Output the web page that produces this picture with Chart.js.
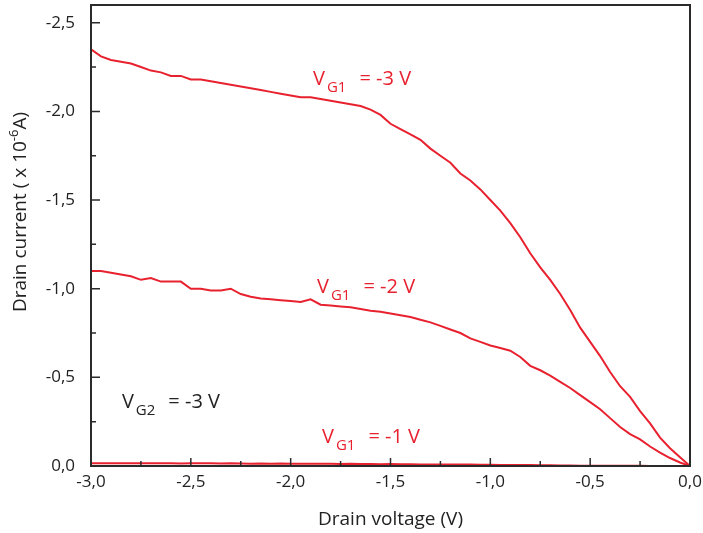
<!DOCTYPE html>
<html>
<head>
<meta charset="utf-8">
<script src="https://cdn.jsdelivr.net/npm/chart.js@4.4.1/dist/chart.umd.min.js"></script>
<style>
  html, body { margin: 0; padding: 0; background: #fff; }
  #wrap { width: 703px; height: 533px; }
</style>
</head>
<body>
<div id="wrap"><canvas id="ivChart"></canvas></div>
<script>
// drain voltage (V), 0.05 V step
const drainVoltage = [
  -3.00, -2.95, -2.90, -2.85, -2.80, -2.75, -2.70, -2.65, -2.60, -2.55,
  -2.50, -2.45, -2.40, -2.35, -2.30, -2.25, -2.20, -2.15, -2.10, -2.05,
  -2.00, -1.95, -1.90, -1.85, -1.80, -1.75, -1.70, -1.65, -1.60, -1.55,
  -1.50, -1.45, -1.40, -1.35, -1.30, -1.25, -1.20, -1.15, -1.10, -1.05,
  -1.00, -0.95, -0.90, -0.85, -0.80, -0.75, -0.70, -0.65, -0.60, -0.55,
  -0.50, -0.45, -0.40, -0.35, -0.30, -0.25, -0.20, -0.15, -0.10, -0.05, 0.00
];

// drain current (x 1e-6 A)
const currentVg1m3 = [
  -2.35, -2.31, -2.29, -2.28, -2.27, -2.25, -2.23, -2.22, -2.20, -2.20,
  -2.18, -2.18, -2.17, -2.16, -2.15, -2.14, -2.13, -2.12, -2.11, -2.10,
  -2.09, -2.08, -2.08, -2.07, -2.06, -2.05, -2.04, -2.03, -2.01, -1.98,
  -1.93, -1.90, -1.87, -1.84, -1.79, -1.75, -1.71, -1.65, -1.61, -1.56,
  -1.50, -1.44, -1.37, -1.29, -1.20, -1.12, -1.05, -0.97, -0.88, -0.78,
  -0.70, -0.62, -0.53, -0.45, -0.39, -0.31, -0.24, -0.16, -0.10, -0.05, 0.00
];

const currentVg1m2 = [
  -1.10, -1.10, -1.09, -1.08, -1.07, -1.05, -1.06, -1.04, -1.04, -1.04,
  -1.00, -1.00, -0.99, -0.99, -1.00, -0.97, -0.955, -0.945, -0.94, -0.935,
  -0.93, -0.925, -0.94, -0.91, -0.905, -0.90, -0.895, -0.885, -0.875, -0.87,
  -0.86, -0.85, -0.84, -0.825, -0.81, -0.79, -0.77, -0.75, -0.72, -0.70,
  -0.68, -0.665, -0.65, -0.615, -0.565, -0.54, -0.51, -0.475, -0.44, -0.40,
  -0.36, -0.32, -0.27, -0.22, -0.18, -0.15, -0.11, -0.075, -0.045, -0.02, 0.00
];

const currentVg1m1 = [
  -0.016, -0.016, -0.015, -0.016, -0.015, -0.015, -0.016, -0.015, -0.015, -0.014,
  -0.015, -0.016, -0.015, -0.014, -0.015, -0.014, -0.013, -0.014, -0.013, -0.014,
  -0.013, -0.012, -0.013, -0.012, -0.012, -0.011, -0.012, -0.011, -0.011, -0.010,
  -0.011, -0.010, -0.010, -0.009, -0.009, -0.009, -0.008, -0.008, -0.008, -0.007,
  -0.007, -0.006, -0.006, -0.005, -0.005, -0.004, -0.004, -0.003, -0.003, -0.002,
  -0.002, -0.002, -0.001, -0.001, -0.001, -0.001, 0.000, 0.000, 0.000, 0.000, 0.000
];

const xTickValues = [-3.0, -2.5, -2.0, -1.5, -1.0, -0.5, 0.0];
const yTickValues = [0.0, -0.5, -1.0, -1.5, -2.0, -2.5];

const lineRed = '#e8212f';
const frameColor = '#2b2b2b';
const fontFamily = '"Open Sans", "Liberation Sans", sans-serif';

// curve labels: V + subscript + rest, anchored in data coordinates
const curveLabels = [
  { sub: 'G1', rest: '= -3 V', x: -1.888, y: -2.15, color: lineRed },
  { sub: 'G1', rest: '= -2 V', x: -1.868, y: -0.976, color: lineRed },
  { sub: 'G1', rest: '= -1 V', x: -1.843, y: -0.13, color: lineRed },
  { sub: 'G2', rest: '= -3 V', x: -2.845, y: -0.327, color: '#222' }
];

function fmt(v) {
  const s = Math.abs(v) < 1e-9 ? '0.0' : v.toFixed(1);
  return s.replace('.', ',');
}

function toPoints(ys) {
  return drainVoltage.map((x, i) => ({ x: x, y: ys[i] }));
}

const framePlugin = {
  id: 'frame',
  afterDraw(chart) {
    const ctx = chart.ctx;
    const a = chart.chartArea;
    const xs = chart.scales.x;
    const ys = chart.scales.y;
    ctx.save();
    ctx.strokeStyle = frameColor;
    ctx.lineWidth = 2;
    ctx.strokeRect(a.left, a.top, a.right - a.left, a.bottom - a.top);

    // inward ticks, major every 0.5, minor every 0.25
    ctx.lineWidth = 1.5;
    ctx.beginPath();
    for (let i = 0; i <= 12; i++) {
      const v = -3 + i * 0.25;
      const px = xs.getPixelForValue(v);
      const len = i % 2 === 0 ? 8 : 5;
      ctx.moveTo(px, a.bottom);
      ctx.lineTo(px, a.bottom - len);
    }
    for (let i = 0; i <= 10; i++) {
      const v = -i * 0.25;
      const py = ys.getPixelForValue(v);
      const len = i % 2 === 0 ? 9 : 5;
      ctx.moveTo(a.left, py);
      ctx.lineTo(a.left + len, py);
    }
    ctx.stroke();

    // curve labels
    curveLabels.forEach(l => {
      let px = xs.getPixelForValue(l.x);
      const py = ys.getPixelForValue(l.y);
      ctx.fillStyle = l.color;
      ctx.textBaseline = 'alphabetic';
      ctx.textAlign = 'left';
      ctx.font = '20px ' + fontFamily;
      ctx.fillText('V', px, py);
      px += ctx.measureText('V').width + 2;
      ctx.font = '15px ' + fontFamily;
      ctx.fillText(l.sub, px, py + 7);
      px += ctx.measureText(l.sub).width + 13;
      ctx.font = '20px ' + fontFamily;
      ctx.fillText(l.rest, px, py);
    });

    // y axis title with superscript exponent
    ctx.fillStyle = '#222';
    ctx.translate(21, 212);
    ctx.rotate(-Math.PI / 2);
    ctx.textBaseline = 'middle';
    const p1 = 'Drain current ( x 10';
    const p2 = '-6';
    const p3 = 'A)';
    ctx.font = '19px ' + fontFamily;
    const w1 = ctx.measureText(p1).width;
    const w3 = ctx.measureText(p3).width;
    ctx.font = '13px ' + fontFamily;
    const w2 = ctx.measureText(p2).width;
    let tx = -(w1 + w2 + w3) / 2;
    ctx.font = '19px ' + fontFamily;
    ctx.fillText(p1, tx, 0);
    tx += w1;
    ctx.font = '13px ' + fontFamily;
    ctx.fillText(p2, tx, -7);
    tx += w2;
    ctx.font = '19px ' + fontFamily;
    ctx.fillText(p3, tx, 0);
    ctx.restore();
  }
};

const ctx = document.getElementById('ivChart').getContext('2d');
new Chart(ctx, {
  type: 'line',
  data: {
    datasets: [
      { label: 'VG1 = -3 V', data: toPoints(currentVg1m3) },
      { label: 'VG1 = -2 V', data: toPoints(currentVg1m2) },
      { label: 'VG1 = -1 V', data: toPoints(currentVg1m1) }
    ].map(d => Object.assign(d, {
      borderColor: lineRed,
      borderWidth: 2,
      pointRadius: 0,
      tension: 0,
      fill: false
    }))
  },
  options: {
    responsive: true,
    maintainAspectRatio: false,
    animation: false,
    layout: { padding: { left: 0, top: 5, right: 13, bottom: 0 } },
    plugins: {
      legend: { display: false },
      tooltip: { enabled: false }
    },
    scales: {
      x: {
        type: 'linear',
        min: -3,
        max: 0,
        grid: { display: false, drawTicks: false },
        border: { display: false },
        afterBuildTicks: s => { s.ticks = xTickValues.map(v => ({ value: v })); },
        afterFit: s => { s.height = 67; s.paddingLeft = 0; s.paddingRight = 0; },
        ticks: {
          padding: 6,
          color: '#222',
          font: { family: fontFamily, size: 17 },
          callback: v => fmt(v)
        },
        title: {
          display: true,
          text: 'Drain voltage (V)',
          color: '#222',
          font: { family: fontFamily, size: 19 },
          padding: { top: 0, bottom: 2 }
        }
      },
      y: {
        type: 'linear',
        reverse: true,
        min: -2.6,
        max: 0,
        grid: { display: false, drawTicks: false },
        border: { display: false },
        afterBuildTicks: s => { s.ticks = yTickValues.map(v => ({ value: v })); },
        afterFit: s => { s.width = 91; s.paddingTop = 0; s.paddingBottom = 0; },
        ticks: {
          padding: 16,
          color: '#222',
          font: { family: fontFamily, size: 17 },
          callback: v => fmt(v)
        }
      }
    }
  },
  plugins: [framePlugin]
});
</script>
</body>
</html>
